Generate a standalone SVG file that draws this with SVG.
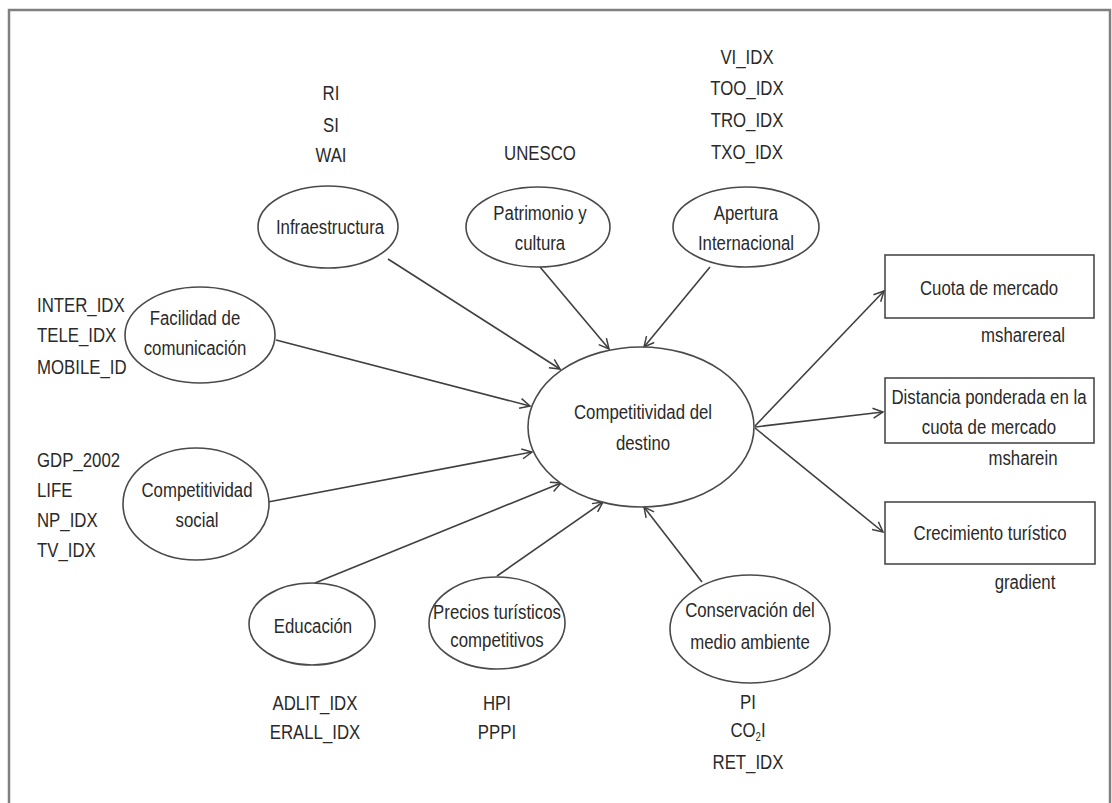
<svg xmlns="http://www.w3.org/2000/svg" width="1112" height="803" viewBox="0 0 1112 803">
  <style>
    .frame { fill: #ffffff; stroke: #808080; stroke-width: 2.5; }
    .node { fill: #ffffff; stroke: #4a4a4a; stroke-width: 1.6; }
    .edge { stroke: #3f3f3f; stroke-width: 1.6; fill: none; marker-end: url(#arrow); }
    .t { font-family: "Liberation Sans", Arial, sans-serif; font-size: 21px; fill: #2a2a2a; text-anchor: middle; }
    .l { text-anchor: start; }
  </style>
  <defs>
    <marker id="arrow" viewBox="0 0 12 12" refX="11" refY="6" markerWidth="12" markerHeight="12" markerUnits="userSpaceOnUse" orient="auto">
      <path d="M1,1 L11,6 L1,11" fill="none" stroke="#3f3f3f" stroke-width="1.5"/>
    </marker>
  </defs>

  <rect x="0" y="0" width="1112" height="803" fill="#ffffff"/>
  <rect class="frame" x="9" y="10" width="1101" height="810"/>

  <!-- connectors -->
  <g id="connectors">
    <line class="edge" x1="388" y1="259" x2="560" y2="369"/>
    <line class="edge" x1="540" y1="267" x2="609" y2="349"/>
    <line class="edge" x1="710" y1="267" x2="644" y2="347"/>
    <line class="edge" x1="276" y1="340" x2="530" y2="406"/>
    <line class="edge" x1="268" y1="502" x2="532" y2="452"/>
    <line class="edge" x1="315" y1="583" x2="561" y2="483"/>
    <line class="edge" x1="497" y1="576" x2="603" y2="502"/>
    <line class="edge" x1="702" y1="582" x2="644" y2="507"/>
    <line class="edge" x1="755" y1="426" x2="884" y2="291"/>
    <line class="edge" x1="755" y1="427" x2="883" y2="412"/>
    <line class="edge" x1="755" y1="428" x2="883" y2="532"/>
  </g>

  <!-- indicator lists -->
  <g id="indicadores">
    <text class="t" transform="translate(331 0) scale(.8 1)"><tspan x="0" y="100">RI</tspan><tspan x="0" y="132">SI</tspan><tspan x="0" y="162">WAI</tspan></text>
    <text class="t" transform="translate(540 0) scale(.8 1)"><tspan x="0" y="160">UNESCO</tspan></text>
    <text class="t" transform="translate(747 0) scale(.8 1)"><tspan x="0" y="64">VI_IDX</tspan><tspan x="0" y="95">TOO_IDX</tspan><tspan x="0" y="127">TRO_IDX</tspan><tspan x="0" y="159">TXO_IDX</tspan></text>
    <text class="t l" transform="translate(37 0) scale(.8 1)"><tspan x="0" y="312">INTER_IDX</tspan><tspan x="0" y="342">TELE_IDX</tspan><tspan x="0" y="374">MOBILE_ID</tspan></text>
    <text class="t l" transform="translate(37 0) scale(.8 1)"><tspan x="0" y="467">GDP_2002</tspan><tspan x="0" y="497">LIFE</tspan><tspan x="0" y="527">NP_IDX</tspan><tspan x="0" y="557">TV_IDX</tspan></text>
    <text class="t" transform="translate(315 0) scale(.8 1)"><tspan x="0" y="710">ADLIT_IDX</tspan><tspan x="0" y="739">ERALL_IDX</tspan></text>
    <text class="t" transform="translate(497 0) scale(.8 1)"><tspan x="0" y="710">HPI</tspan><tspan x="0" y="739">PPPI</tspan></text>
    <text class="t" transform="translate(748 0) scale(.8 1)"><tspan x="0" y="709">PI</tspan><tspan x="0" y="737">CO<tspan font-size="12" dy="4">2</tspan><tspan dy="-4">I</tspan></tspan><tspan x="0" y="769">RET_IDX</tspan></text>
    <text class="t" transform="translate(1023 0) scale(.8 1)"><tspan x="0" y="342">msharereal</tspan></text>
    <text class="t" transform="translate(1023 0) scale(.8 1)"><tspan x="0" y="465">msharein</tspan></text>
    <text class="t" transform="translate(1025 0) scale(.8 1)"><tspan x="0" y="589">gradient</tspan></text>
  </g>

  <!-- latent constructs -->
  <g id="infraestructura">
    <ellipse class="node" cx="328" cy="227" rx="70" ry="41"/>
    <text class="t" transform="translate(330 0) scale(.8 1)"><tspan x="0" y="234">Infraestructura</tspan></text>
  </g>
  <g id="patrimonio">
    <ellipse class="node" cx="538" cy="227" rx="72" ry="40"/>
    <text class="t" transform="translate(540 0) scale(.8 1)"><tspan x="0" y="220">Patrimonio y</tspan><tspan x="0" y="250">cultura</tspan></text>
  </g>
  <g id="apertura">
    <ellipse class="node" cx="746" cy="227" rx="73" ry="40"/>
    <text class="t" transform="translate(746 0) scale(.8 1)"><tspan x="0" y="220">Apertura</tspan><tspan x="0" y="250">Internacional</tspan></text>
  </g>
  <g id="facilidad">
    <ellipse class="node" cx="200" cy="335" rx="75" ry="48"/>
    <text class="t" transform="translate(195 0) scale(.8 1)"><tspan x="0" y="325">Facilidad de</tspan><tspan x="0" y="355">comunicación</tspan></text>
  </g>
  <g id="social">
    <ellipse class="node" cx="196" cy="504" rx="73" ry="56"/>
    <text class="t" transform="translate(197 0) scale(.8 1)"><tspan x="0" y="497">Competitividad</tspan><tspan x="0" y="527">social</tspan></text>
  </g>
  <g id="destino">
    <ellipse class="node" cx="641" cy="427" rx="113" ry="80"/>
    <text class="t" transform="translate(643 0) scale(.8 1)"><tspan x="0" y="419">Competitividad del</tspan><tspan x="0" y="450">destino</tspan></text>
  </g>
  <g id="educacion">
    <ellipse class="node" cx="312" cy="624" rx="63" ry="41"/>
    <text class="t" transform="translate(313 0) scale(.8 1)"><tspan x="0" y="633">Educación</tspan></text>
  </g>
  <g id="precios">
    <ellipse class="node" cx="497" cy="623" rx="68" ry="46"/>
    <text class="t" transform="translate(497 0) scale(.8 1)"><tspan x="0" y="619">Precios turísticos</tspan><tspan x="0" y="647">competitivos</tspan></text>
  </g>
  <g id="conservacion">
    <ellipse class="node" cx="750" cy="629" rx="80" ry="54"/>
    <text class="t" transform="translate(750 0) scale(.8 1)"><tspan x="0" y="617">Conservación del</tspan><tspan x="0" y="649">medio ambiente</tspan></text>
  </g>

  <!-- outcome indicators -->
  <g id="cuota">
    <rect class="node" x="885" y="255" width="209" height="63"/>
    <text class="t" transform="translate(989 0) scale(.8 1)"><tspan x="0" y="295">Cuota de mercado</tspan></text>
  </g>
  <g id="distancia">
    <rect class="node" x="885" y="378" width="209" height="65"/>
    <text class="t" transform="translate(989 0) scale(.8 1)"><tspan x="0" y="404">Distancia ponderada en la</tspan><tspan x="0" y="434">cuota de mercado</tspan></text>
  </g>
  <g id="crecimiento">
    <rect class="node" x="885" y="502" width="210" height="62"/>
    <text class="t" transform="translate(990 0) scale(.8 1)"><tspan x="0" y="540">Crecimiento turístico</tspan></text>
  </g>
</svg>
